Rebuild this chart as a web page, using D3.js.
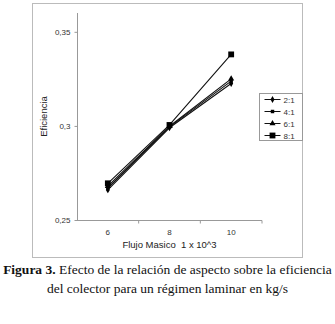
<!DOCTYPE html>
<html>
<head>
<meta charset="utf-8">
<script src="https://cdn.jsdelivr.net/npm/d3@7"></script>
<style>
  body { margin: 0; background: #fff; }
  svg { display: block; }
  .axis path, .axis line { stroke: #999; }
  .axis text { font-family: "Liberation Sans", Arial, sans-serif; font-size: 8px; fill: #333; }
</style>
</head>
<body>
<div id="chart"></div>
<script>
/**
 * DATA
 * */
const categories = ["6", "8", "10"];
const seriesNames = ["2:1", "4:1", "6:1", "8:1"];
const eff_2 = [0.266, 0.2990, 0.3225];
const eff_4 = [0.267, 0.2995, 0.3238];
const eff_6 = [0.268, 0.2998, 0.3250];
const eff_8 = [0.2695, 0.3005, 0.3380];
const yTicks = [0.25, 0.3, 0.35];

const width = 335, height = 324;
const margin = { top: 13, bottom: 104, left: 77, right: 73 };

const series = [
  { name: seriesNames[0], values: eff_2, symbol: d3.symbolDiamond, size: 14 },
  { name: seriesNames[1], values: eff_4, symbol: d3.symbolSquare, size: 12 },
  { name: seriesNames[2], values: eff_6, symbol: d3.symbolTriangle, size: 16 },
  { name: seriesNames[3], values: eff_8, symbol: d3.symbolSquare, size: 34 }
];

const svg = d3.select("#chart").append("svg")
  .attr("width", width)
  .attr("height", height);

svg.append("rect").attr("width", width).attr("height", height).attr("fill", "#fff");

// outer frame
svg.append("rect")
  .attr("x", 32.5).attr("y", 3.5)
  .attr("width", 270).attr("height", 254)
  .attr("fill", "none").attr("stroke", "#bbb");

// SCALES
const xScale = d3.scaleBand()
  .domain(categories)
  .range([margin.left, width - margin.right]);

const yScale = d3.scaleLinear()
  .domain([0.25, 0.36])
  .range([height - margin.bottom, margin.top]);

const comma = d => d3.format(".2~f")(d).replace(".", ",");

// AXES
const xAxis = d3.axisBottom(xScale).tickSize(0).tickPadding(9);
const gx = svg.append("g")
  .attr("class", "axis")
  .attr("transform", `translate(0,${height - margin.bottom + 0.5})`)
  .call(xAxis);
gx.select(".domain").attr("d", `M${margin.left},0H${width - margin.right}`);
// tick marks between categories
gx.selectAll(".sep")
  .data(categories)
  .join("line")
  .attr("class", "sep")
  .attr("x1", d => xScale(d) + xScale.bandwidth())
  .attr("x2", d => xScale(d) + xScale.bandwidth())
  .attr("y1", 0).attr("y2", 3);

const yAxis = d3.axisLeft(yScale).tickValues(yTicks).tickFormat(comma).tickSize(3).tickPadding(4);
const gy = svg.append("g")
  .attr("class", "axis")
  .attr("transform", `translate(${margin.left + 0.5},0)`)
  .call(yAxis);
gy.select(".domain").attr("d", `M0,${yScale(0.25)}V${yScale(0.36)}`);

// axis titles
svg.append("text")
  .attr("transform", `translate(47,${(margin.top + height - margin.bottom) / 2}) rotate(-90)`)
  .attr("text-anchor", "middle")
  .attr("font-family", "Liberation Sans, Arial, sans-serif")
  .attr("font-size", 9.5)
  .attr("fill", "#222")
  .text("Eficiencia");

svg.append("text")
  .attr("x", (margin.left + width - margin.right) / 2)
  .attr("y", 248)
  .attr("text-anchor", "middle")
  .attr("font-family", "Liberation Sans, Arial, sans-serif")
  .attr("font-size", 9.5)
  .attr("fill", "#222")
  .attr("xml:space", "preserve")
  .text("Flujo Masico  1 x 10^3");

// LINES
const lineFunc = d3.line()
  .x((d, i) => xScale(categories[i]) + xScale.bandwidth() / 2)
  .y(d => yScale(d));

svg.selectAll("path.trend")
  .data(series)
  .join("path")
  .attr("class", "trend")
  .attr("fill", "none")
  .attr("stroke", "#111")
  .attr("stroke-width", 1.1)
  .attr("d", d => lineFunc(d.values));

series.forEach(s => {
  svg.selectAll(null)
    .data(s.values)
    .join("path")
    .attr("transform", (d, i) => `translate(${xScale(categories[i]) + xScale.bandwidth() / 2},${yScale(d)})`)
    .attr("d", d3.symbol(s.symbol, s.size))
    .attr("fill", "#000");
});

// LEGEND
const legend = svg.append("g").attr("transform", "translate(259.5,93.5)");
legend.append("rect")
  .attr("width", 43).attr("height", 47)
  .attr("fill", "#fff").attr("stroke", "#999");
const item = legend.selectAll("g.item")
  .data(series)
  .join("g")
  .attr("class", "item")
  .attr("transform", (d, i) => `translate(0,${6 + i * 12})`);
item.append("line")
  .attr("x1", 5).attr("x2", 21)
  .attr("stroke", "#111");
item.append("path")
  .attr("transform", "translate(13,0)")
  .attr("d", d => d3.symbol(d.symbol, d.size)())
  .attr("fill", "#000");
item.append("text")
  .attr("x", 24).attr("y", 3)
  .attr("font-family", "Liberation Sans, Arial, sans-serif")
  .attr("font-size", 8)
  .attr("fill", "#333")
  .text(d => d.name);

// CAPTION
const cap = svg.append("text")
  .attr("x", width / 2)
  .attr("y", 274)
  .attr("text-anchor", "middle")
  .attr("font-family", "Liberation Serif, serif")
  .attr("font-size", 13.5)
  .attr("fill", "#111");
cap.append("tspan").attr("font-weight", "bold").text("Figura 3.");
cap.append("tspan").text(" Efecto de la relación de aspecto sobre la eficiencia");
svg.append("text")
  .attr("x", width / 2)
  .attr("y", 293)
  .attr("text-anchor", "middle")
  .attr("font-family", "Liberation Serif, serif")
  .attr("font-size", 13.5)
  .attr("fill", "#111")
  .text("del colector para un régimen laminar en kg/s");
</script>
</body>
</html>
